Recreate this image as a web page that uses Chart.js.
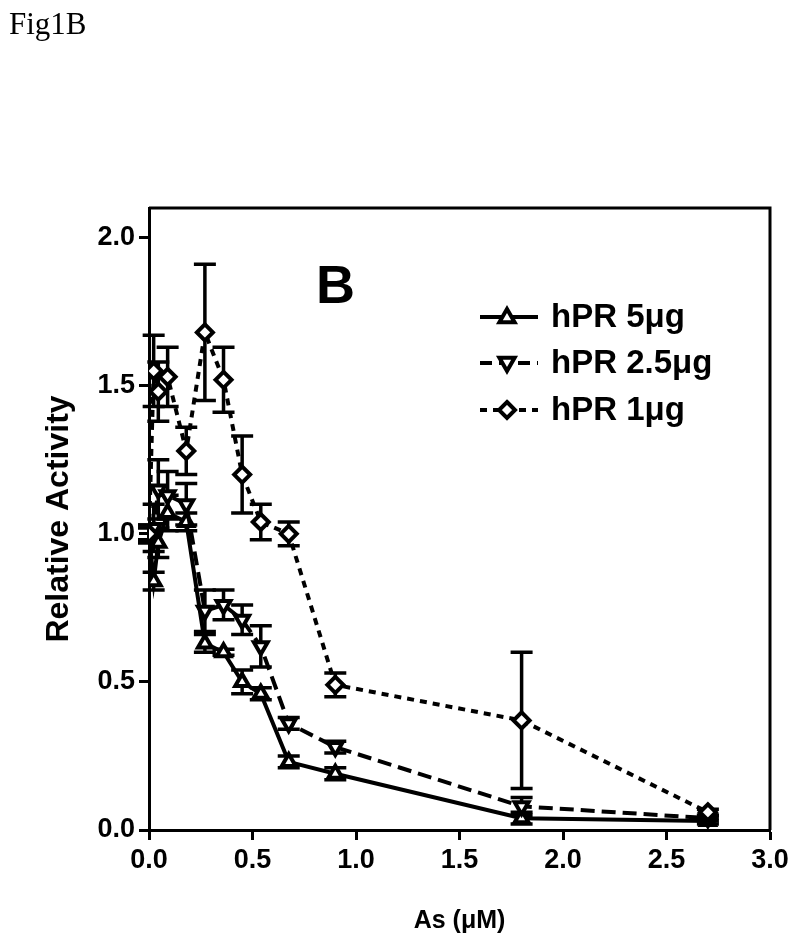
<!DOCTYPE html>
<html>
<head>
<meta charset="utf-8">
<script src="https://cdn.jsdelivr.net/npm/chart.js@4.4.0/dist/chart.umd.min.js"></script>
<style>
  html, body { margin: 0; padding: 0; background: #fff; }
  #wrap { position: relative; width: 800px; height: 940px; }
  #fig { position: absolute; left: 9px; top: 6px; font-family: "Liberation Serif", "Times New Roman", serif; font-size: 31px; color: #000; }
  canvas { position: absolute; left: 0; top: 0; }
</style>
</head>
<body>
<div id="wrap">
  <canvas id="chart" width="800" height="940"></canvas>
  <div id="fig">Fig1B</div>
</div>
<script>
// ---------------- Data ----------------
const concentrations = [0, 0.0225, 0.045, 0.09, 0.18, 0.27, 0.36, 0.45, 0.54, 0.675, 0.9, 1.8, 2.7];
const seriesLabels = ["hPR 5\u03bcg", "hPR 2.5\u03bcg", "hPR 1\u03bcg"];

const hpr5 = [1.00, 0.84, 0.97, 1.07, 1.04, 0.63, 0.60, 0.50, 0.46, 0.23, 0.19, 0.04, 0.03];
const hpr5Err = [0.02, 0.03, 0.05, 0.06, 0.03, 0.03, 0.01, 0.04, 0.02, 0.02, 0.02, 0.02, 0.01];

const hpr25 = [1.00, 1.02, 1.15, 1.13, 1.10, 0.74, 0.76, 0.71, 0.62, 0.36, 0.28, 0.08, 0.04];
const hpr25Err = [0.03, 0.08, 0.10, 0.08, 0.07, 0.07, 0.05, 0.05, 0.07, 0.02, 0.02, 0.03, 0.01];

const hpr1 = [1.00, 1.55, 1.48, 1.53, 1.28, 1.68, 1.52, 1.20, 1.04, 1.00, 0.49, 0.37, 0.06];
const hpr1Err = [0.03, 0.12, 0.10, 0.10, 0.08, 0.23, 0.11, 0.13, 0.06, 0.04, 0.04, 0.23, 0.01];

const xTicks = [0, 0.5, 1.0, 1.5, 2.0, 2.5, 3.0];
const yTicks = [0, 0.5, 1.0, 1.5, 2.0];

const BOLD = "'Liberation Sans', Arial, sans-serif";

function toPoints(values) {
  return values.map((v, i) => ({ x: concentrations[i], y: v }));
}

// ---------------- Plugins ----------------
const errorBars = {
  id: "errorBars",
  beforeDatasetsDraw(chart) {
    const ctx = chart.ctx;
    const xs = chart.scales.x, ys = chart.scales.y;
    chart.data.datasets.forEach(ds => {
      ctx.save();
      ctx.strokeStyle = "#000";
      ctx.lineWidth = 3.5;
      ds.data.forEach((p, i) => {
        const e = ds.errors[i];
        if (!e) return;
        const px = xs.getPixelForValue(p.x);
        const top = ys.getPixelForValue(p.y + e);
        const bot = ys.getPixelForValue(p.y - e);
        ctx.beginPath();
        ctx.moveTo(px, top); ctx.lineTo(px, bot);
        ctx.moveTo(px - 11, top); ctx.lineTo(px + 11, top);
        ctx.moveTo(px - 11, bot); ctx.lineTo(px + 11, bot);
        ctx.stroke();
      });
      ctx.restore();
    });
  }
};

function drawMarker(ctx, style, x, y, r) {
  ctx.beginPath();
  if (style === "up") {
    ctx.moveTo(x, y - r); ctx.lineTo(x + r * 0.95, y + r * 0.65); ctx.lineTo(x - r * 0.95, y + r * 0.65);
  } else if (style === "down") {
    ctx.moveTo(x, y + r); ctx.lineTo(x + r * 0.95, y - r * 0.65); ctx.lineTo(x - r * 0.95, y - r * 0.65);
  } else {
    ctx.moveTo(x, y - r); ctx.lineTo(x + r, y); ctx.lineTo(x, y + r); ctx.lineTo(x - r, y);
  }
  ctx.closePath();
  ctx.fillStyle = "#fff";
  ctx.fill();
  ctx.stroke();
}

const frameAndText = {
  id: "frameAndText",
  afterDraw(chart) {
    const ctx = chart.ctx;
    const a = chart.chartArea;
    ctx.save();
    // box top / right
    ctx.strokeStyle = "#000";
    ctx.lineWidth = 3;
    ctx.beginPath();
    ctx.moveTo(a.left, a.top); ctx.lineTo(a.right, a.top); ctx.lineTo(a.right, a.bottom);
    ctx.stroke();

    // panel letter
    ctx.fillStyle = "#000";
    ctx.font = "bold 54px " + BOLD;
    ctx.textBaseline = "alphabetic";
    ctx.fillText("B", 316, 303);

    // legend
    const rows = [
      { y: 317, dash: [], style: "up" },
      { y: 363, dash: [12, 7], style: "down" },
      { y: 410, dash: [7, 6], style: "diamond" }
    ];
    rows.forEach((r, i) => {
      ctx.lineWidth = 4;
      ctx.setLineDash(r.dash);
      ctx.beginPath();
      ctx.moveTo(480, r.y); ctx.lineTo(538, r.y);
      ctx.stroke();
      ctx.setLineDash([]);
      ctx.lineWidth = 4;
      drawMarker(ctx, r.style, 507, r.y, 8);
      ctx.fillStyle = "#000";
      ctx.font = "bold 33px " + BOLD;
      ctx.textBaseline = "middle";
      ctx.fillText(seriesLabels[i], 551, r.y + 1);
    });
    ctx.restore();
  }
};

// ---------------- Chart ----------------
function makeDataset(label, values, errors, style, dash, width) {
  return {
    label,
    data: toPoints(values),
    errors,
    borderColor: "#000",
    borderWidth: width,
    borderDash: dash,
    pointStyle: style === "diamond" ? "rectRot" : "triangle",
    rotation: style === "down" ? 180 : 0,
    pointRadius: 8,
    pointBorderWidth: 4,
    pointBackgroundColor: "#fff",
    pointBorderColor: "#000",
    tension: 0,
    fill: false
  };
}

new Chart(document.getElementById("chart"), {
  type: "line",
  data: {
    datasets: [
      makeDataset(seriesLabels[2], hpr1, hpr1Err, "diamond", [7, 6], 4),
      makeDataset(seriesLabels[1], hpr25, hpr25Err, "down", [14, 7], 4),
      makeDataset(seriesLabels[0], hpr5, hpr5Err, "up", [], 4)
    ]
  },
  options: {
    responsive: false,
    animation: false,
    layout: { padding: { top: 208, right: 30, left: 40, bottom: 0 } },
    plugins: { legend: { display: false }, tooltip: { enabled: false } },
    scales: {
      x: {
        type: "linear",
        min: 0,
        max: 3.0,
        afterFit(scale) { scale.height = 110; },
        afterBuildTicks(scale) { scale.ticks = xTicks.map(v => ({ value: v })); },
        ticks: {
          color: "#000",
          font: { family: BOLD, size: 27, weight: "bold" },
          padding: 4,
          maxRotation: 0,
          callback: v => Number(v).toFixed(1)
        },
        grid: { drawOnChartArea: false, drawTicks: true, tickLength: 10, tickWidth: 3, tickColor: "#000" },
        border: { display: true, color: "#000", width: 3 },
        title: {
          display: true,
          text: "As (\u03bcM)",
          color: "#000",
          font: { family: BOLD, size: 25, weight: "bold" },
          padding: { top: 12 }
        }
      },
      y: {
        min: 0,
        max: 2.1,
        afterFit(scale) { scale.width = 109; },
        afterBuildTicks(scale) { scale.ticks = yTicks.map(v => ({ value: v })); },
        ticks: {
          color: "#000",
          font: { family: BOLD, size: 27, weight: "bold" },
          padding: 4,
          callback: v => Number(v).toFixed(1)
        },
        grid: { drawOnChartArea: false, drawTicks: true, tickLength: 10, tickWidth: 3, tickColor: "#000" },
        border: { display: true, color: "#000", width: 3 },
        title: {
          display: true,
          text: "Relative Activity",
          color: "#000",
          font: { family: BOLD, size: 32, weight: "bold" },
          padding: { top: 0, bottom: 0 }
        }
      }
    }
  },
  plugins: [errorBars, frameAndText]
});
</script>
</body>
</html>
